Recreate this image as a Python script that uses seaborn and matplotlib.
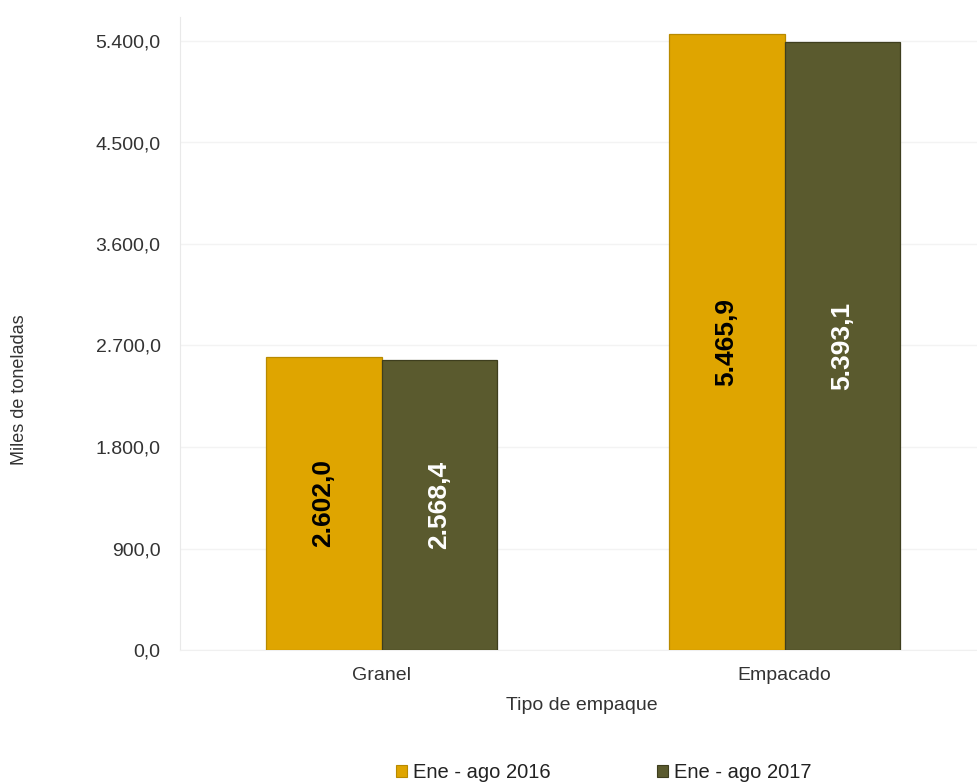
import numpy as np
import pandas as pd
import matplotlib
matplotlib.use("Agg")
import matplotlib.pyplot as plt
import seaborn as sns
from matplotlib.ticker import FuncFormatter, FixedLocator
from matplotlib.patches import Patch

# data
categories = ["Granel", "Empacado"]
periods = ["Ene - ago 2016", "Ene - ago 2017"]
values_2016 = [2602.0, 5465.9]
values_2017 = [2568.4, 5393.1]
y_ticks = [0, 900, 1800, 2700, 3600, 4500, 5400]

bar_colors = ["#DFA500", "#5A5A2E"]
edge_colors = ["#B88A00", "#3E3E1E"]
label_colors = ["black", "white"]


def es_num(v, pos=None):
    """Format with Spanish separators: 5.400,0"""
    s = f"{v:,.1f}"
    return s.replace(",", "X").replace(".", ",").replace("X", ".")


df = pd.DataFrame({
    "tipo": categories * 2,
    "periodo": [periods[0]] * 2 + [periods[1]] * 2,
    "valor": values_2016 + values_2017,
})

sns.set_style("white")
plt.rcParams["font.family"] = ["Liberation Sans", "DejaVu Sans"]

fig = plt.figure(figsize=(9.77, 7.84), dpi=100)
ax = fig.add_axes([180 / 977, 1 - 650 / 784, 1 - 180 / 977, (650 - 17) / 784])

sns.barplot(data=df, x="tipo", y="valor", hue="periodo", order=categories,
            hue_order=periods, palette=bar_colors, saturation=1, width=0.575,
            gap=0, legend=False, ax=ax, zorder=3)

# edge + label each series
for cont, ec, lc in zip(ax.containers, edge_colors, label_colors):
    for bar in cont:
        bar.set_edgecolor(ec)
        bar.set_linewidth(0.9)
    ax.bar_label(cont, labels=[es_num(b.get_height()) for b in cont],
                 label_type="center", rotation=90, color=lc,
                 fontsize=19, fontweight="bold")

ax.set_xlim(-0.5, -0.5 + (977 - 180) / 403)
ax.set_ylim(0, 5400 + 24 / 609 * 5400)
ax.set_yticks(y_ticks)
ax.yaxis.set_major_formatter(FuncFormatter(es_num))
ax.grid(axis="y", color="#F3F3F3", linewidth=1, zorder=0)

for s in ["top", "right"]:
    ax.spines[s].set_visible(False)
ax.spines["left"].set_color("#E9E9E9")
ax.spines["bottom"].set_color("#F0F0F0")

ax.tick_params(axis="y", length=5, width=1, color="#E9E9E9", pad=9,
               labelsize=14, labelcolor="#333333")
ax.tick_params(axis="x", which="major", length=0, pad=12,
               labelsize=14, labelcolor="#333333")
ax.xaxis.set_minor_locator(FixedLocator([-0.5, 0.5]))
ax.tick_params(axis="x", which="minor", length=5, width=1, color="#E9E9E9")

ax.set_xlabel("")
ax.set_ylabel("")
fig.text(582 / 977, 1 - 706 / 784, "Tipo de empaque", ha="center", va="center",
         fontsize=14, color="#333333")
fig.text(20 / 977, 1 - 390 / 784, "Miles de toneladas", ha="center", va="center",
         rotation=90, fontsize=13, color="#333333")

handles = [Patch(facecolor=c, edgecolor=e, linewidth=0.8) for c, e in zip(bar_colors, edge_colors)]
fig.legend(handles, periods, loc="center", bbox_to_anchor=(0.618, 1 - 773 / 784),
           ncol=2, frameon=False, fontsize=14.5, handlelength=0.55, handleheight=0.55,
           handletextpad=0.3, columnspacing=5.3, labelcolor="#222222")

fig.savefig("out.png", dpi=100, facecolor="white")
